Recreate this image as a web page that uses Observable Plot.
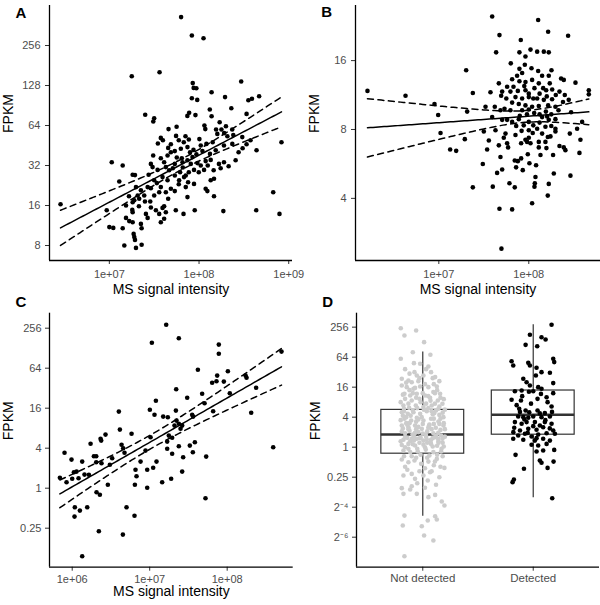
<!DOCTYPE html>
<html><head><meta charset="utf-8">
<script src="https://cdn.jsdelivr.net/npm/d3@7"></script>
<script src="https://cdn.jsdelivr.net/npm/@observablehq/plot@0.6"></script>
<style>
html,body{margin:0;padding:0;background:#fff;}
#chart{position:relative;width:600px;height:605px;font-family:"Liberation Sans",Arial,sans-serif;}
#chart svg{position:absolute;overflow:visible;}
#chart g[aria-label$="tick label"]{fill:#4d4d4d;}
#chart g[aria-label$="-axis tick"]{stroke:#333;}
</style>
</head><body><div id="chart"></div>
<script>
// ---- DATA (points as [log10 MS signal intensity, log2 FPKM]) ----
const panelA = [
[7.80,8.71],[7.92,8.25],[8.05,8.18],[7.25,7.23],[7.56,7.33],[8.47,7.10],[7.93,7.06],[7.94,6.94],[7.97,6.93],[8.14,6.83],[8.29,6.71],[7.92,6.68],[7.98,6.64],[8.55,6.63],[8.59,6.67],[8.67,6.73],[8.36,6.43],[8.12,6.40],[7.89,6.32],[7.87,6.24],[7.96,6.26],[8.14,6.23],[8.53,6.29],[7.40,6.27],[7.50,6.18],[7.49,6.10],[8.23,6.08],[8.06,6.00],[8.07,5.91],[7.66,5.91],[7.75,5.97],[8.19,5.90],[8.25,5.90],[8.30,5.98],[8.37,5.90],[8.28,5.81],
[7.574,5.69],[7.744,5.74],[7.849,5.73],[8.004,5.66],[8.082,5.54],[8.204,5.79],[8.316,5.73],[8.382,5.76],[8.482,5.71],[8.919,5.58],
[8.641,5.38],[7.656,5.44],[7.686,5.33],[7.649,5.25],[7.73,5.36],[7.797,5.42],[7.871,5.46],[7.9,5.33],[7.938,5.39],[7.971,5.28],[7.927,5.21],[8.038,5.36],[8.122,5.29],[7.489,5.25],[8.278,5.5],[8.371,5.54],
[7.027,5.08],[7.149,5.0],[7.463,5.04],[7.482,4.96],[7.611,5.08],[7.63,4.96],[7.73,5.04],[7.816,5.08],[7.871,5.13],[7.908,5.04],[7.982,5.06],[8.074,5.11],[8.13,5.14],[8.222,5.04],[8.278,5.08],[7.944,4.89],[8.056,4.89],[7.538,4.89],[7.667,4.88],[7.789,4.83],[7.26,4.77],[7.286,4.76],
[7.111,4.6],[7.438,4.77],[7.5,4.63],[7.53,4.56],[7.593,4.71],[7.649,4.63],[7.73,4.75],[7.778,4.63],[7.833,4.71],[7.878,4.58],[7.852,4.46],[7.944,4.54],[8.13,4.63],[8.167,4.67],[8.074,4.42],[8.093,4.36],[8.827,4.33],[7.686,4.42],[7.574,4.46],[7.427,4.46],[7.297,4.46],
[8.167,4.23],[7.871,4.21],[7.73,4.36],[7.656,4.17],[7.5,4.25],[7.556,4.33],[7.389,4.25],[7.333,4.17],[7.278,4.13],[7.316,4.25],[7.397,4.1],[7.456,4.1],[7.26,4.08],[6.456,4.03],[7.611,3.98],
[6.971,3.88],[7.256,3.89],[7.26,3.83],[7.519,3.88],[7.556,3.79],[7.593,3.94],[7.63,3.83],[7.741,3.88],[7.827,3.79],[7.952,3.88],[8.271,3.86],[8.638,3.88],[8.897,3.79],[7.408,3.79],[7.427,3.69],[7.186,3.69],[7.222,3.61],[7.26,3.58],[7.611,3.67],[7.574,3.58],[7.352,3.54],
[7.0,3.46],[7.044,3.44],[7.149,3.43],[7.36,3.43],[7.271,3.29],[7.278,3.21],[7.286,3.14],[7.167,3.0],[7.297,2.94],[7.36,3.02],
[7.541,5.55],[7.597,5.63],[7.686,5.53],[7.774,5.63],[7.83,5.58],[7.886,5.65],[7.752,5.2],[7.808,5.18],[7.574,5.18],[7.708,4.93],[7.819,4.95],[7.886,4.83],[7.997,4.83],[8.019,5.0],[8.097,5.0],[8.163,4.88],[8.241,4.93],[8.33,4.98],[8.408,5.13],[8.441,5.33],[8.486,5.43],[8.53,5.53],[8.574,5.63],[8.186,5.38],[8.152,5.58],[8.019,5.5],[7.852,4.75],[7.774,4.53],[7.63,4.33],[7.463,4.43],[7.352,4.38],[7.219,4.23],[7.33,3.98],[7.463,3.95],[7.186,4.0]
];
const panelB = [
[7.593,4.64],[8.104,4.59],[7.674,4.37],[8.215,4.42],[8.437,4.36],[7.911,4.30],[7.637,4.12],[7.896,4.12],[8.019,4.16],[8.093,4.13],[8.167,4.13],[8.222,4.12],[7.963,4.06],[7.8,3.96],[7.304,3.86],[7.956,3.94],[7.896,3.88],[8.03,3.89],[7.926,3.82],[8.104,3.85],[8.252,3.86],[8.148,3.78],[8.222,3.78],[8.359,3.74],[8.389,3.72],[8.519,3.68],[7.815,3.73],[7.896,3.70],[7.963,3.69],[8.037,3.72],[8.111,3.67],[8.233,3.67],[7.667,3.67],[7.759,3.62],[7.704,3.55],[7.796,3.55],[7.878,3.56],[7.963,3.57],[8.063,3.60],[8.193,3.57],[8.341,3.55],[8.40,3.50],[7.574,3.54],[7.378,3.53],[6.207,3.56],[6.63,3.49],[8.667,3.57],[8.667,3.51],[7.852,3.47],[7.926,3.45],[8.0,3.47],[8.093,3.45],[8.167,3.43],[8.259,3.44],[7.693,3.49],[7.815,3.39],[7.889,3.37],[7.963,3.35],[8.037,3.33],[8.111,3.34],[8.215,3.35],[8.296,3.33],[8.444,3.43],[6.952,3.37],[7.519,3.33],[7.622,3.33],[7.685,3.28],[7.796,3.28],[7.926,3.28],[8.0,3.29],[6.993,3.21],[7.315,3.26],[7.593,3.18],[7.704,3.14],[7.759,3.14],[7.815,3.11],[7.889,3.15],[7.944,3.06],[8.0,3.11],[8.148,3.18],[8.204,3.19],[8.222,3.14],[8.296,3.15],[8.593,3.11],[7.63,2.99],[7.5,2.97],[7.019,2.95],[8.0,2.99],[8.093,3.01],[8.185,3.04],[8.296,3.01],[8.537,3.01],
[7.289,2.86],[7.126,2.71],[7.193,2.69],[7.556,2.84],[7.537,2.71],[7.667,2.77],[7.722,2.88],[7.759,2.80],[7.77,2.74],[7.741,2.94],[7.852,2.92],[7.915,2.80],[7.963,2.85],[8.0,2.88],[8.019,2.80],[7.981,2.82],[8.111,2.82],[8.111,2.74],[8.185,2.82],[8.211,2.89],[8.241,2.90],[8.296,2.97],[8.196,2.73],[8.341,2.76],[8.389,2.74],[8.407,2.70],[8.456,2.94],[8.574,2.85],[8.563,2.66],[8.044,2.95],[8.148,2.94],[7.685,2.60],[7.489,2.50],[7.844,2.55],[7.878,2.54],[7.915,2.58],[7.989,2.64],[8.007,2.51],[8.081,2.48],[8.13,2.63],[8.27,2.63],[7.859,2.45],[7.933,2.41],[7.704,2.42],[7.648,2.37],[8.074,2.31],[8.278,2.36],[8.463,2.33],[7.785,2.22],[7.844,2.16],[7.60,2.17],[7.378,2.16],[8.067,2.22],[8.063,2.17],[8.222,2.21],[8.211,2.04],[8.037,1.93],[7.674,1.85],[7.815,1.84],[7.696,1.27],
[7.83,3.62],[7.87,3.78],[7.95,3.63],[8.0,3.52],[8.05,3.45],[8.12,3.52],[8.16,3.6],[8.2,3.48],[8.26,3.58],[8.3,3.5],[7.9,3.2],[7.98,3.22],[8.06,3.24],[8.12,3.22],[8.19,3.26],[8.25,3.22],[7.86,3.05],[7.92,2.98],[8.05,3.06],[8.12,3.1],[8.25,3.05],[8.33,3.28],[8.38,3.4],[8.47,3.25],[7.75,3.45],[7.73,3.3]
];
const panelC = [
[7.213,8.17],[7.028,7.27],[7.376,7.5],[7.892,7.18],[7.892,6.72],[8.701,6.83],[7.622,5.92],[8.009,5.85],[7.871,5.63],[7.806,5.27],[7.862,5.35],[7.957,5.33],[8.237,5.63],[8.25,5.52],[8.374,5.02],[7.342,4.95],[8.034,4.75],[7.484,4.52],[7.677,4.72],[7.708,4.25],[7.08,4.37],[6.602,3.83],[7.002,3.92],[7.062,3.67],[7.174,3.58],[7.234,3.55],[7.338,3.88],[8.31,3.77],[7.548,3.67],[7.561,3.58],[7.346,3.38],[7.32,3.13],[7.376,3.22],[7.419,3.13],[7.398,2.97],[7.819,3.85],[6.615,2.93],[6.766,2.72],[6.43,2.68],[6.366,2.47],[7.011,2.55],[7.247,2.63],[7.29,2.52],
[6.237,2.22],[6.374,2.38],[5.901,1.77],[5.991,1.43],[6.129,1.33],[6.28,1.6],[6.31,1.6],[6.31,1.3],[6.378,1.25],[6.056,0.83],[6.022,0.8],[6.159,0.68],[6.215,0.67],[5.841,0.52],[5.927,0.3],[6.0,0.47],[6.082,0.5],[6.486,1.17],[6.516,1.5],[6.637,2.17],[6.658,2.0],[6.675,1.77],[6.882,1.33],[6.817,0.92],[6.83,0.6],[6.809,0.17],[6.946,1.88],[6.968,0.92],[7.045,1.02],[7.088,1.33],[6.968,0.02],[6.46,0.17],[6.314,-0.2],[6.357,-0.33],[7.161,0.3],[7.226,1.97],[7.226,2.33],[7.277,0.47],[7.29,1.72],[7.376,2.1],[7.419,0.83],[7.432,1.55],[7.518,2.13],[7.583,2.3],[7.557,1.8],[7.729,1.58],[7.72,-0.5],[8.594,2.05],[6.034,-0.95],[6.099,-1.12],[6.03,-1.42],[6.194,-0.95],[6.701,-0.95],[6.804,-1.38],[6.344,-2.15],[6.654,-2.32],[6.129,-3.4]
];
// Panel D: [jitter offset from category centre, log2 FPKM]
const dNotDetected = [
[-0.199,7.93],[-0.166,7.44],[-0.06,7.78],[0.012,7.0],[-0.09,6.33],[0.069,6.16],[-0.199,5.89],[-0.024,5.56],[0.051,5.38],[-0.075,5.0],[-0.054,4.78],[0.006,4.78],[0.075,5.0],[0.112,4.67],[-0.19,4.56],[-0.13,4.44],[-0.1,4.33],[-0.04,4.4],[-0.19,4.11],[-0.145,4.0],[-0.084,3.89],[-0.024,4.04],[0.051,4.0],[0.127,4.04],[0.157,3.56],[0.096,3.67],[-0.166,3.56],[-0.114,3.44],[-0.054,3.56],[0.021,3.44],[-0.16,3.22],[-0.1,3.11],[-0.03,3.22],[0.066,3.29],[0.136,3.11],[0.178,2.89],[-0.175,2.78],[-0.124,2.62],[-0.063,2.78],[0.006,2.67],[0.081,2.78],[0.142,2.56],[-0.19,2.33],[-0.136,2.22],[-0.084,2.33],[-0.024,2.22],[0.036,2.4],[0.105,2.27],[0.187,2.0],[-0.166,1.89],[-0.105,1.78],[-0.054,1.96],[0.006,1.78],[0.075,1.89],[0.142,1.71],[-0.19,1.44],[-0.13,1.33],[-0.07,1.44],[-0.009,1.22],[0.057,1.44],[0.118,1.29],[0.187,1.44],[-0.16,0.93],[-0.093,0.84],[-0.04,1.0],[0.027,0.84],[0.096,0.93],[0.166,0.78],[-0.175,0.49],[-0.114,0.4],[-0.054,0.56],[0.006,0.44],[0.075,0.49],[0.142,0.4],
[-0.16,0.67],[-0.1,0.56],[-0.024,0.6],[0.036,0.51],[0.112,0.67],[0.178,0.56],[-0.13,0.22],[-0.07,0.11],[0.006,0.16],[0.075,0.22],[0.142,0.29],[-0.175,-0.22],[-0.114,-0.33],[-0.045,-0.29],[0.027,-0.16],[0.096,-0.33],[0.166,-0.29],[-0.19,-0.82],[-0.13,-1.0],[-0.075,-0.89],[-0.015,-1.11],[0.051,-0.96],[0.127,-0.78],[0.196,-1.38],[-0.175,-1.89],[-0.1,-1.78],[-0.07,-2.11],[0.006,-1.89],[0.066,-1.67],[0.045,-2.22],[-0.19,-2.73],[-0.175,-3.11],[-0.114,-2.82],[-0.054,-3.11],[0.051,-3.33],[0.112,-3.18],[0.172,-3.62],[0.196,-3.89],[-0.166,-4.56],[-0.181,-5.22],[-0.009,-5.27],[0.045,-4.89],[0.112,-4.6],[0.127,-4.82],[0.012,-5.89],[0.096,-6.22],[-0.166,-7.27],
[-0.18,2.1],[-0.15,1.6],[-0.12,1.1],[-0.08,0.7],[-0.03,0.3],[0.02,0.0],[0.07,0.35],[0.12,0.75],[0.16,1.15],[0.19,1.6],[-0.19,1.05],[-0.14,0.62],[-0.09,0.2],[-0.05,-0.1],[0.0,1.55],[0.04,1.05],[0.09,0.6],[0.13,0.1],[0.17,-0.1],[0.1,1.9],[-0.17,2.55],[-0.11,2.1],[-0.06,1.7],[-0.01,2.0],[0.05,2.6],[0.09,2.2],[0.15,2.15],[0.2,2.5],[-0.2,1.8],[-0.13,1.2],[-0.07,0.95],[0.03,0.7],[0.08,1.2],[0.14,0.95],[0.18,0.3],[-0.16,0.0],[-0.1,-0.6],[-0.02,-0.5],[0.06,-0.55],[0.13,-0.5],[-0.18,3.5],[-0.12,3.8],[-0.06,3.3],[0.0,3.6],[0.05,3.4],[0.11,3.6],[0.16,3.3],[-0.15,4.3],[-0.03,4.6],[0.1,4.2],[-0.14,1.5],[-0.04,1.35],[0.06,1.5],[0.15,1.55],[-0.09,2.45],[0.01,2.5],[0.12,2.45],[-0.2,0.4],[0.2,0.7],[0.02,-1.4],[-0.16,-1.3],[0.1,-1.2],[-0.05,-2.4],[0.15,-2.0],
[-0.2,3.0],[-0.17,2.4],[-0.13,2.9],[-0.09,3.6],[-0.05,2.6],[-0.02,3.0],[0.03,2.9],[0.07,3.1],[0.11,2.9],[0.15,2.7],[0.19,3.2],[-0.18,1.25],[-0.12,1.6],[-0.06,1.2],[0.0,0.9],[0.05,1.3],[0.1,1.55],[0.16,1.9],[0.2,1.2],[-0.19,0.15],[-0.13,-0.1],[-0.08,0.45],[-0.02,0.65],[0.04,0.3],[0.09,0.05],[0.14,0.55],[0.19,0.05],[-0.16,5.2],[-0.08,5.6],[0.03,5.2],[0.09,4.6],[0.15,4.4],[-0.12,4.9],[0.02,4.2],[-0.07,3.95],[0.13,3.8],[-0.17,-0.6],[-0.06,-0.7],[0.04,-0.7],[0.11,-0.95],[0.18,-0.6],[-0.14,-1.5],[-0.03,-1.6],[0.08,-1.6],[0.16,-1.3],[-0.1,-2.6],[0.02,-2.7],[0.12,-2.5],[-0.04,1.85],[0.08,2.4],[-0.15,2.0],[0.18,2.3]
];
const dDetected = [
[0.166,8.16],[-0.03,7.49],[0.075,7.33],[0.112,7.18],[-0.069,6.82],[0.036,6.73],[-0.196,5.73],[-0.181,5.44],[-0.045,5.62],[-0.03,5.44],[0.03,5.29],[0.181,5.89],[0.19,5.67],[-0.09,4.56],[-0.06,4.33],[0.075,5.0],[0.151,4.96],[0.024,4.78],[0.181,4.27],[-0.03,4.11],[0.045,4.0],[-0.166,3.73],[-0.105,3.78],[-0.039,3.69],[0,3.73],[0.075,3.89],[0.181,3.6],[-0.196,3.16],[-0.111,3.11],[0.039,3.22],[0.121,3.33],[0.166,2.71],[-0.127,2.56],[-0.069,2.44],[-0.036,2.33],[0.039,2.44],[0.105,2.27],[-0.136,2.04],[-0.09,2.0],[-0.045,1.96],[0,2.04],[0.075,2.0],[0.151,2.04],[-0.166,1.67],[-0.105,1.56],[-0.06,1.67],[0.015,1.67],[0.06,1.44],[0.105,1.67],[0.166,1.56],[-0.172,1.29],[-0.12,1.11],[-0.045,1.22],[0.03,1.16],[0.09,1.33],[0.181,1.11],[-0.136,0.78],[-0.075,0.89],[-0.015,0.71],[0.045,0.84],[0.121,0.93],[0.196,0.89],[-0.181,0.56],[-0.09,0.49],[0.015,0.44],[0.09,0.56],[0.151,0.44],
[0.121,0.22],[-0.015,0.16],[0.045,0.11],[0.03,-0.29],[0.09,-0.22],[0.19,-0.18],[-0.16,-0.51],[0.06,-0.89],[0.075,-1.04],[0.184,-0.96],[0.13,-1.38],[-0.084,-1.44],[-0.175,-2.16],[-0.187,-2.33],[0.172,-3.4],
[-0.15,2.8],[-0.02,2.9],[0.13,3.0],[-0.08,1.85],[0.11,1.8],[-0.18,1.0],[0.06,2.25],[-0.12,2.35],[0.17,2.35],[0.0,1.4],[-0.05,0.95],[0.15,1.25],[-0.1,3.4],[0.07,3.55],[0.03,0.6]
];
const dCategories = ["Not detected", "Detected"];
// box statistics (FPKM): lower whisker, Q1, median, Q3, upper whisker
const dBoxLow    = [0.041, 0.097];
const dBoxQ1     = [0.74, 1.78];
const dBoxMedian = [1.8, 4.47];
const dBoxQ3     = [5.6, 13.7];
const dBoxHigh   = [81, 286];

const aXTicks = [1e7, 1e8, 1e9], aYTicks = [8, 16, 32, 64, 128, 256];
const bXTicks = [1e7, 1e8],      bYTicks = [4, 8, 16];
const cXTicks = [1e6, 1e7, 1e8], cYTicks = [0.25, 1, 4, 16, 64, 256];
const dYTicks = [2 ** -6, 2 ** -4, 0.25, 1, 4, 16, 64, 256];
const xTitle = "MS signal intensity", yTitle = "FPKM";

// ---- helpers ----
const FONT = "Liberation Sans, Arial, sans-serif";
const toPoints = arr => arr.map(([lx, ly]) => ({intensity: 10 ** lx, fpkm: 2 ** ly}));
const sci = d => "1e+" + String(Math.round(Math.log10(d))).padStart(2, "0");
const yFmt = d => {
  const e = Math.round(Math.log2(d));
  if (e < -2) return "2" + "\u207B" + (e === -4 ? "\u2074" : "\u2076");
  return String(d);
};

function fitCurve(pts, n = 80) {
  const N = pts.length;
  const mx = d3.mean(pts, p => p[0]), my = d3.mean(pts, p => p[1]);
  let sxx = 0, sxy = 0;
  for (const [a, b] of pts) { sxx += (a - mx) ** 2; sxy += (a - mx) * (b - my); }
  const slope = sxy / sxx, icpt = my - slope * mx;
  let sse = 0;
  for (const [a, b] of pts) sse += (b - icpt - slope * a) ** 2;
  const s = Math.sqrt(sse / (N - 2));
  const t = 1.96 + 2.4 / (N - 2);
  const [x0, x1] = d3.extent(pts, p => p[0]);
  return d3.range(n + 1).map(i => {
    const lx = x0 + (x1 - x0) * i / n;
    const f = icpt + slope * lx;
    const se = s * Math.sqrt(1 / N + (lx - mx) ** 2 / sxx);
    return {intensity: 10 ** lx, fit: 2 ** f, lo: 2 ** (f - t * se), hi: 2 ** (f + t * se)};
  });
}

function frameMarks(xmin, ymin) {
  return [Plot.ruleX([xmin], {stroke: "black", strokeWidth: 1.3}), Plot.ruleY([ymin], {stroke: "black", strokeWidth: 1.3})];
}

function scatterPanel(o) {
  const pts = toPoints(o.data);
  const curve = fitCurve(o.data);
  const xd = [10 ** o.xExp[0], 10 ** o.xExp[1]], yd = [2 ** o.yExp[0], 2 ** o.yExp[1]];
  const svg = Plot.plot({
    width: o.width, height: o.height,
    marginLeft: o.m[0], marginTop: o.m[1], marginRight: o.m[2], marginBottom: o.m[3],
    style: {fontFamily: FONT, background: "transparent", overflow: "visible"},
    x: {type: "log", base: 10, domain: xd, label: null},
    y: {type: "log", base: 2, domain: yd, label: null},
    marks: [
      Plot.axisX({ticks: o.xTicks, tickFormat: sci, tickSize: 4, tickPadding: o.xPad, fontSize: 11, label: null}),
      Plot.axisY({ticks: o.yTicks, tickFormat: yFmt, tickSize: 4, tickPadding: o.yPad, fontSize: 11, label: null}),
      ...frameMarks(xd[0], yd[0]),
      Plot.dot(pts, {x: "intensity", y: "fpkm", r: 2.3, fill: "black", stroke: "none"}),
      Plot.line(curve, {x: "intensity", y: "fit", stroke: "black", strokeWidth: 1.5}),
      Plot.line(curve, {x: "intensity", y: "lo", stroke: "black", strokeWidth: 1.5, strokeDasharray: "6,4.5"}),
      Plot.line(curve, {x: "intensity", y: "hi", stroke: "black", strokeWidth: 1.5, strokeDasharray: "6,4.5"}),
      Plot.text([xTitle], {frameAnchor: "bottom", dy: o.titleDy, lineAnchor: "middle", fontSize: 14, fill: "black"}),
      Plot.text([yTitle], {frameAnchor: "left", dx: -41, rotate: -90, lineAnchor: "middle", fontSize: 14, fill: "black"}),
      Plot.text([o.tag], {frameAnchor: "top-left", dx: o.tagDx, dy: o.tagDy, textAnchor: "start", lineAnchor: "middle", fontSize: 15, fontWeight: "bold", fill: "black"})
    ]
  });
  svg.style.left = o.left + "px"; svg.style.top = o.top + "px";
  return svg;
}

const chart = document.getElementById("chart");
chart.appendChild(scatterPanel({data: panelA, tag: "A", left: 0, top: 0, width: 300, height: 300, m: [49, 5, 8, 40],
  xExp: [6.333, 9.042], yExp: [2.625, 9.0], xTicks: aXTicks, yTicks: aYTicks, xPad: 6, yPad: 5, titleDy: 29.5, tagDx: -34, tagDy: 7.3}));
chart.appendChild(scatterPanel({data: panelB, tag: "B", left: 300, top: 0, width: 300, height: 300, m: [55, 5, 0, 40],
  xExp: [6.074, 8.797], yExp: [1.098, 4.80], xTicks: bXTicks, yTicks: bYTicks, xPad: 6, yPad: 5, titleDy: 29.5, tagDx: -34.3, tagDy: 7}));
chart.appendChild(scatterPanel({data: panelC, tag: "C", left: 0, top: 300, width: 300, height: 305, m: [49, 12.7, 7.3, 38.3],
  xExp: [5.707, 8.852], yExp: [-3.95, 8.75], xTicks: cXTicks, yTicks: cYTicks, xPad: 3.5, yPad: 4, titleDy: 24.3, tagDx: -34, tagDy: -10.7}));

// Panel D
{
  const grey = dNotDetected.map(([j, ly]) => ({pos: 1 + j, fpkm: 2 ** ly}));
  const black = dDetected.map(([j, ly]) => ({pos: 2 + j, fpkm: 2 ** ly}));
  const boxes = dCategories.map((c, i) => ({pos: i + 1, lo: dBoxLow[i], q1: dBoxQ1[i], med: dBoxMedian[i], q3: dBoxQ3[i], hi: dBoxHigh[i]}));
  const xd = [0.4, 2.6], yd = [2 ** -8.0, 2 ** 8.93];
  const svg = Plot.plot({
    width: 300, height: 305, marginLeft: 56, marginTop: 12.7, marginRight: 1, marginBottom: 38.3,
    style: {fontFamily: FONT, background: "transparent", overflow: "visible"},
    x: {type: "linear", domain: xd, label: null},
    y: {type: "log", base: 2, domain: yd, label: null},
    marks: [
      Plot.axisX({ticks: [1, 2], tickFormat: i => dCategories[i - 1], tickSize: 4, tickPadding: 3, fontSize: 11.5, label: null}),
      Plot.axisY({ticks: dYTicks, tickFormat: yFmt, tickSize: 4, tickPadding: 4, fontSize: 11, label: null}),
      ...frameMarks(xd[0], yd[0]),
      Plot.ruleX(boxes, {x: "pos", y1: "lo", y2: "q1", stroke: "#333", strokeWidth: 1.2}),
      Plot.ruleX(boxes, {x: "pos", y1: "q3", y2: "hi", stroke: "#333", strokeWidth: 1.2}),
      Plot.rect(boxes, {x1: d => d.pos - 0.375, x2: d => d.pos + 0.375, y1: "q1", y2: "q3", fill: "white", stroke: "#333", strokeWidth: 1.2}),
      Plot.ruleY(boxes, {x1: d => d.pos - 0.375, x2: d => d.pos + 0.375, y: "med", stroke: "#333", strokeWidth: 2.6}),
      Plot.dot(grey, {x: "pos", y: "fpkm", r: 2.3, fill: "#cccccc", stroke: "none"}),
      Plot.dot(black, {x: "pos", y: "fpkm", r: 2.3, fill: "black", stroke: "none"}),
      Plot.text([yTitle], {frameAnchor: "left", dx: -41, rotate: -90, lineAnchor: "middle", fontSize: 14, fill: "black"}),
      Plot.text(["D"], {frameAnchor: "top-left", dx: -34.3, dy: -10.7, textAnchor: "start", lineAnchor: "middle", fontSize: 15, fontWeight: "bold", fill: "black"})
    ]
  });
  svg.style.left = "300px"; svg.style.top = "300px";
  chart.appendChild(svg);
}
</script>
</body></html>
